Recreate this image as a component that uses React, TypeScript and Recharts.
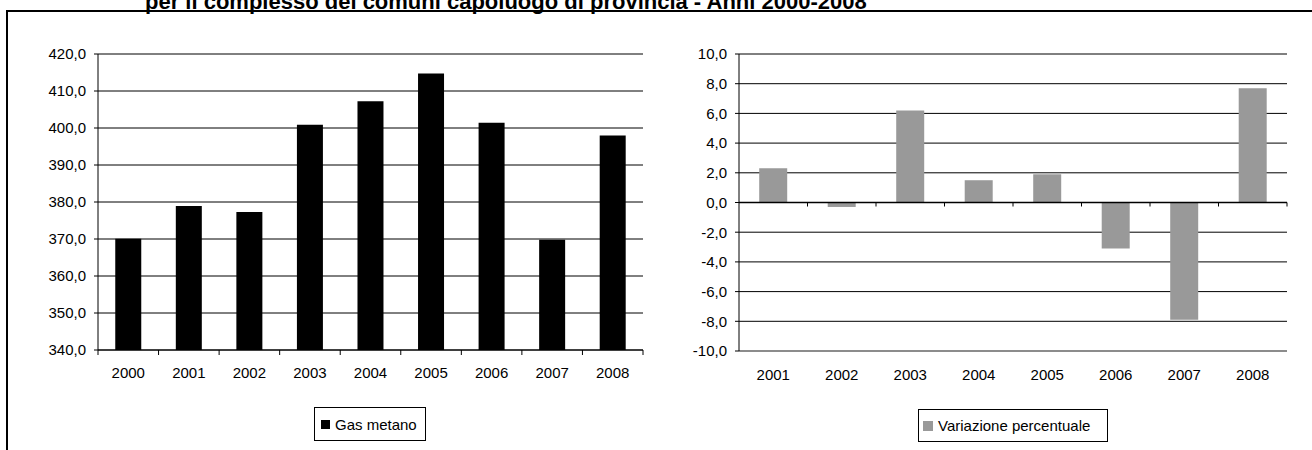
import { Bar, BarChart, CartesianGrid, Legend, ReferenceLine, XAxis, YAxis } from 'recharts'

const FONT = "'Liberation Sans', Arial, sans-serif"

const gasYears = ['2000', '2001', '2002', '2003', '2004', '2005', '2006', '2007', '2008']
const gasMetano = [370.1, 378.9, 377.3, 400.9, 407.2, 414.7, 401.4, 369.8, 398.0]
const gasTicks = [340, 350, 360, 370, 380, 390, 400, 410, 420]

const varYears = ['2001', '2002', '2003', '2004', '2005', '2006', '2007', '2008']
const variazione = [2.3, -0.3, 6.2, 1.5, 1.9, -3.1, -7.9, 7.7]
const varTicks = [-10, -8, -6, -4, -2, 0, 2, 4, 6, 8, 10]

const gasData = gasYears.map((year, i) => ({ year, value: gasMetano[i] }))
const varData = varYears.map((year, i) => ({ year, value: variazione[i] }))

const fmt = (v: number) => v.toFixed(1).replace('.', ',')

const BORDER = '#8c8c8c'

// left panel geometry
const L_W = 660
const L_MARGIN = { top: 54, right: 17, bottom: 60, left: 38 }
const L_YAXIS = 60
const L_BAND = (L_W - L_MARGIN.left - L_MARGIN.right - L_YAXIS) / gasYears.length

// right panel geometry
const R_W = 652
const R_MARGIN = { top: 54, right: 25, bottom: 59, left: 19 }
const R_YAXIS = 60
const R_BAND = (R_W - R_MARGIN.left - R_MARGIN.right - R_YAXIS) / varYears.length

const textStyle = { fontFamily: FONT, fontSize: 15, fill: '#000' }

// category label with tick marks on the band boundaries
function bandTick(band: number, marks: boolean, labelDy: number) {
  return (props: any) => {
    const { x, y, payload, index, visibleTicksCount } = props
    const last = index === visibleTicksCount - 1
    return (
      <g>
        {marks && <line x1={x - band / 2} y1={y} x2={x - band / 2} y2={y + 5} stroke="#000" />}
        {marks && last && <line x1={x + band / 2} y1={y} x2={x + band / 2} y2={y + 5} stroke="#000" />}
        <text x={x} y={y + labelDy} textAnchor="middle" style={textStyle}>
          {payload.value}
        </text>
      </g>
    )
  }
}

// zero line of the percentage chart, with its band ticks
function zeroAxis(props: any) {
  const { x1, y1, x2 } = props
  const marks = varYears.map((_, i) => x1 + R_BAND * (i + 1))
  return (
    <g>
      <line x1={x1} y1={y1} x2={x2} y2={y1} stroke="#000" strokeWidth={1.5} />
      {marks.map((mx) => (
        <line key={mx} x1={mx} y1={y1} x2={mx} y2={y1 + 4} stroke="#000" />
      ))}
    </g>
  )
}

function legendBox(opts: { sq: number; pad: number; gap: number; w: number; h: number }) {
  return (props: any) => {
    const item = props.payload?.[0]
    if (!item) return null
    return (
      <div
        style={{
          boxSizing: 'border-box',
          width: opts.w,
          height: opts.h,
          border: '1px solid #000',
          background: '#fff',
          display: 'flex',
          alignItems: 'center',
          paddingLeft: opts.pad,
          fontFamily: FONT,
          fontSize: 15,
          color: '#000',
          whiteSpace: 'nowrap',
        }}
      >
        <span style={{ width: opts.sq, height: opts.sq, background: item.color, marginRight: opts.gap }} />
        <span>{item.value}</span>
      </div>
    )
  }
}

function GasChart() {
  return (
    <BarChart width={L_W} height={450} data={gasData} margin={L_MARGIN} barCategoryGap="28.5%">
      <CartesianGrid vertical={false} stroke="#000" />
      <Bar dataKey="value" name="Gas metano" fill="#000" isAnimationActive={false} />
      <XAxis
        dataKey="year"
        height={40}
        axisLine={{ stroke: '#000' }}
        tickLine={false}
        tickSize={0}
        tickMargin={0}
        interval={0}
        tick={bandTick(L_BAND, true, 28)}
      />
      <XAxis xAxisId="top" dataKey="year" orientation="top" height={0} tick={false} tickLine={false} axisLine={{ stroke: BORDER, strokeWidth: 2 }} />
      <YAxis
        width={L_YAXIS}
        domain={[340, 420]}
        ticks={gasTicks}
        tickFormatter={fmt}
        axisLine={{ stroke: '#000' }}
        tickLine={{ stroke: '#000' }}
        tickSize={4}
        tickMargin={8}
        tick={textStyle}
      />
      <YAxis yAxisId="edge" orientation="right" width={0} domain={[0, 1]} tick={false} tickLine={false} axisLine={{ stroke: BORDER, strokeWidth: 2 }} />
      <Legend
        layout="horizontal"
        verticalAlign="middle"
        align="center"
        wrapperStyle={{ left: 314, top: 407, width: 'auto' }}
        content={legendBox({ sq: 9, pad: 6, gap: 5, w: 112, h: 34 })}
      />
    </BarChart>
  )
}

function VariazioneChart() {
  return (
    <BarChart width={R_W} height={450} data={varData} margin={R_MARGIN} barCategoryGap="29.5%">
      <CartesianGrid vertical={false} stroke="#000" />
      <Bar dataKey="value" name="Variazione percentuale" fill="#999999" isAnimationActive={false} />
      <ReferenceLine y={0} shape={zeroAxis} />
      <XAxis
        dataKey="year"
        height={40}
        axisLine={{ stroke: BORDER, strokeWidth: 2 }}
        tickLine={false}
        tickSize={0}
        tickMargin={0}
        interval={0}
        tick={bandTick(R_BAND, false, 29)}
      />
      <XAxis xAxisId="top" dataKey="year" orientation="top" height={0} tick={false} tickLine={false} axisLine={{ stroke: BORDER, strokeWidth: 2 }} />
      <YAxis
        width={R_YAXIS}
        domain={[-10, 10]}
        ticks={varTicks}
        tickFormatter={fmt}
        axisLine={{ stroke: '#000' }}
        tickLine={{ stroke: '#000' }}
        tickSize={4}
        tickMargin={8}
        tick={textStyle}
      />
      <YAxis yAxisId="edge" orientation="right" width={0} domain={[0, 1]} tick={false} tickLine={false} axisLine={{ stroke: BORDER, strokeWidth: 2 }} />
      <Legend
        layout="horizontal"
        verticalAlign="middle"
        align="center"
        wrapperStyle={{ left: 258, top: 409, width: 'auto' }}
        content={legendBox({ sq: 10, pad: 4, gap: 5, w: 190, h: 33 })}
      />
    </BarChart>
  )
}

export default function App() {
  return (
    <div style={{ position: 'absolute', left: 0, top: 0, width: 1312, height: 450, overflow: 'hidden', background: '#fff' }}>
      <div style={{ position: 'absolute', left: 6, top: 10, width: 1400, height: 500, border: '2px solid #000' }} />
      <svg width={1312} height={20} style={{ position: 'absolute', left: 0, top: 0 }}>
        <text x={145} y={8.5} style={{ fontFamily: FONT, fontSize: 22, fontWeight: 'bold', fill: '#000' }}>
          per il complesso dei comuni capoluogo di provincia - Anni 2000-2008
        </text>
      </svg>
      <div style={{ position: 'absolute', left: 0, top: 0 }}>
        <GasChart />
      </div>
      <div style={{ position: 'absolute', left: L_W, top: 0 }}>
        <VariazioneChart />
      </div>
    </div>
  )
}
